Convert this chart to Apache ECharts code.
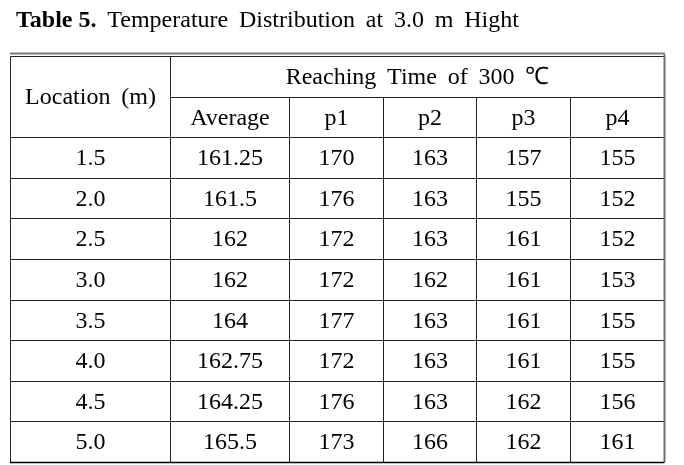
<!DOCTYPE html>
<html><head><meta charset="utf-8">
<script src="https://cdn.jsdelivr.net/npm/echarts@6/dist/echarts.min.js"></script>
<style>html,body{margin:0;padding:0;background:#fff}#main{width:684px;height:465px}</style>
</head><body><div id="main"></div>
<script>
// ---- data ----
const titleBold = 'Table 5.';
const titleText = 'Temperature Distribution at 3.0 m Hight';
const rowHeader = 'Location (m)';
const groupHeader = 'Reaching Time of 300 ℃';
const columnHeaders = ['Average', 'p1', 'p2', 'p3', 'p4'];
const locations = ['1.5', '2.0', '2.5', '3.0', '3.5', '4.0', '4.5', '5.0'];
const averageValues = [161.25, 161.5, 162, 162, 164, 162.75, 164.25, 165.5];
const p1Values = [170, 176, 172, 172, 177, 172, 176, 173];
const p2Values = [163, 163, 163, 162, 163, 163, 163, 166];
const p3Values = [157, 155, 161, 161, 161, 161, 162, 162];
const p4Values = [155, 152, 152, 153, 155, 155, 156, 161];

// ---- layout (column edges in axis units) ----
const colEdges = [0, 160, 279, 373, 466, 560, 654];
const FONT = "'Liberation Serif','Times New Roman',serif";
const wide = s => s.replace(/ /g, ' \u2009');   // wider word spacing as in the original

const cells = [];   // [c0, c1, r0, r1]
const texts = [];
function addCell(c0, c1, r0, r1, t) { cells.push([c0, c1, r0, r1]); texts.push(String(t)); }
addCell(0, 1, 0, 2, wide(rowHeader));
addCell(1, 6, 0, 1, wide(groupHeader));
columnHeaders.forEach((h, i) => addCell(i + 1, i + 2, 1, 2, h));
const valueCols = [averageValues, p1Values, p2Values, p3Values, p4Values];
locations.forEach((loc, r) => {
  addCell(0, 1, r + 2, r + 3, loc);
  valueCols.forEach((arr, c) => addCell(c + 1, c + 2, r + 2, r + 3, arr[r]));
});
const totalRows = 2 + locations.length;

const px = v => Math.round(v) + 0.5;

const chart = echarts.init(document.getElementById('main'), null, { renderer: 'canvas' });
chart.setOption({
  animation: false,
  backgroundColor: '#fff',
  title: {
    text: '{b|' + titleBold + '}{r| \u2009' + wide(titleText) + '}',
    left: 11, top: 4,
    textStyle: {
      fontWeight: 'normal',
      rich: {
        b: { fontFamily: FONT, fontSize: 24, fontWeight: 'bold', color: '#000' },
        r: { fontFamily: FONT, fontSize: 24, fontWeight: 'normal', color: '#000' }
      }
    }
  },
  grid: { left: 10, top: 56, width: 654, height: 406 },
  xAxis: { type: 'value', min: 0, max: colEdges[colEdges.length - 1], show: false },
  yAxis: { type: 'value', min: 0, max: totalRows, inverse: true, show: false },
  series: [
    {
      type: 'custom',
      coordinateSystem: 'cartesian2d',
      data: cells,
      encode: { x: [0, 1], y: [2, 3] },
      renderItem: function (params, api) {
        const a = api.coord([colEdges[api.value(0)], api.value(2)]);
        const b = api.coord([colEdges[api.value(1)], api.value(3)]);
        const x0 = px(a[0]), y0 = px(a[1]), x1 = px(b[0]), y1 = px(b[1]);
        return {
          type: 'group',
          children: [
            { type: 'rect', shape: { x: x0, y: y0, width: x1 - x0, height: y1 - y0 },
              style: { fill: 'none', stroke: '#222', lineWidth: 1 } },
            { type: 'text', x: (x0 + x1) / 2, y: (y0 + y1) / 2 + 1,
              style: { text: texts[params.dataIndex], font: '24px ' + FONT, fill: '#000',
                align: 'center', verticalAlign: 'middle' } }
          ]
        };
      }
    },
    {
      type: 'custom',
      coordinateSystem: 'cartesian2d',
      data: [[0, colEdges.length - 1, 0, totalRows]],
      renderItem: function (params, api) {
        const a = api.coord([colEdges[api.value(0)], api.value(2)]);
        const b = api.coord([colEdges[api.value(1)], api.value(3)]);
        const x0 = Math.round(a[0]), y0 = Math.round(a[1]), x1 = Math.round(b[0]), y1 = Math.round(b[1]);
        return {
          type: 'group',
          children: [
            { type: 'line', shape: { x1: x0, y1: y0 - 2.5, x2: x1 + 1, y2: y0 - 2.5 },
              style: { stroke: '#7a7a7a', lineWidth: 2 } },
            { type: 'line', shape: { x1: x1 + 0.5, y1: y0 - 1.5, x2: x1 + 0.5, y2: y1 },
              style: { stroke: '#6e6e6e', lineWidth: 2 } },
            { type: 'line', shape: { x1: x0, y1: y1 + 0.5, x2: x1, y2: y1 + 0.5 },
              style: { stroke: '#000', lineWidth: 1.5 } }
          ]
        };
      }
    }
  ]
});
</script>
</body></html>
